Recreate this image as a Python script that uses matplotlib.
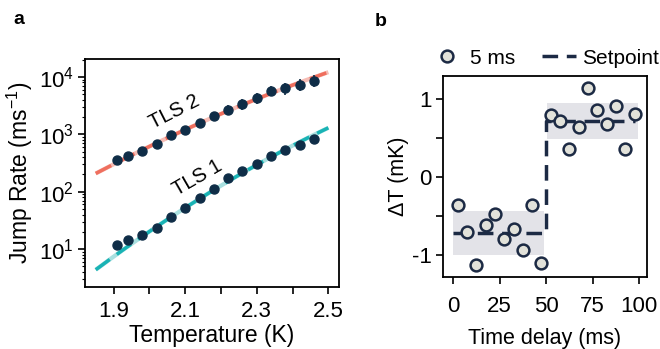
import matplotlib
matplotlib.use("Agg")
import matplotlib.pyplot as plt
import numpy as np
from matplotlib.patches import Rectangle

plt.rcParams['font.family'] = ['Liberation Sans', 'DejaVu Sans']
plt.rcParams['mathtext.fontset'] = 'custom'
plt.rcParams['mathtext.rm'] = 'Liberation Sans'
plt.rcParams['mathtext.it'] = 'Liberation Sans:italic'
plt.rcParams['axes.linewidth'] = 1.3

# panel a: jump rates vs temperature
temps = [1.91, 1.94, 1.98, 2.02, 2.06, 2.10, 2.14, 2.18, 2.22, 2.26, 2.30, 2.34, 2.38, 2.42, 2.46]
tls2_rate = [352, 413, 519, 678, 961, 1175, 1577, 2061, 2692, 3381, 4305, 5777, 6425, 7350, 8630]
tls2_err = [0, 0, 0, 0, 0, 0, 250, 350, 500, 700, 900, 1200, 1500, 1700, 2000]
tls1_rate = [11.6, 14.5, 17.6, 23.2, 36.2, 51.9, 76.5, 113, 173, 226, 308, 413, 526, 661, 830]

fit_t = [1.85, 2.0, 2.2, 2.35, 2.5]
tls2_fit = [210, 600, 2300, 5500, 12000]
tls1_fit = [4.5, 19, 135, 430, 1290]

# panel b: temperature step
delay = [2.5, 7.5, 12.5, 17.5, 22.5, 27.5, 32.5, 37.5, 42.5, 47.5,
         52.5, 57.5, 62.5, 67.5, 72.5, 77.5, 82.5, 87.5, 92.5, 97.5]
dT = [-0.36, -0.70, -1.13, -0.62, -0.47, -0.79, -0.66, -0.94, -0.36, -1.10,
      0.79, 0.71, 0.36, 0.64, 1.13, 0.86, 0.68, 0.90, 0.36, 0.81]
set_t = [0, 50, 50, 97.5]
set_v = [-0.72, -0.72, 0.72, 0.72]
bands = [(0, 49, -1.0, -0.44), (50.5, 99.3, 0.49, 0.95)]

navy = '#0f2d47'
fs_tick = 16
fig = plt.figure(figsize=(6.6, 3.49), dpi=100)

ax = fig.add_axes([0.1288, 0.178, 0.385, 0.653])
# smooth fit through read points in log space
tt = np.linspace(fit_t[0], fit_t[-1], 200)
for fit, light, dark in [(tls2_fit, '#f6bdb5', '#ef6f5e'), (tls1_fit, '#a9e0e0', '#19b3b5')]:
    yy = 10 ** np.polyval(np.polyfit(fit_t, np.log10(fit), 2), tt)
    ax.plot(tt, yy, color=light, lw=3, solid_capstyle='butt', zorder=1)
    ax.plot(tt, yy, color=dark, lw=2.5, dashes=(5, 2.5), zorder=2)
ax.errorbar(temps, tls2_rate, yerr=tls2_err, fmt='o', color=navy, ms=6.5, elinewidth=1.2, capsize=0, zorder=3)
ax.plot(temps, tls1_rate, 'o', color=navy, ms=6.5, zorder=3)
ax.text(2.07, 2500, 'TLS 2', rotation=27, fontsize=14.5, ha='center', va='center')
ax.text(2.135, 175, 'TLS 1', rotation=30, fontsize=14.5, ha='center', va='center')
ax.set_yscale('log')
ax.set_xlim(1.82, 2.53)
ax.set_ylim(2.2, 2.05e4)
ax.set_xticks([1.9, 2.1, 2.3, 2.5])
ax.set_xticks([2.0, 2.2, 2.4], minor=True)
ax.tick_params(which='both', direction='out', top=False, right=False, labelsize=fs_tick, pad=3)
ax.tick_params(axis='x', pad=5)
ax.tick_params(which='major', length=5, width=1.2)
ax.tick_params(axis='x', which='minor', length=5, width=1.2)
ax.tick_params(axis='y', which='minor', length=2.5, width=0.8)
ax.set_xlabel('Temperature (K)', fontsize=16.5)
ax.set_ylabel('Jump Rate (ms$^{-1}$)', fontsize=16.5)
ax.yaxis.set_label_coords(-0.197, 0.5)
ax.xaxis.set_label_coords(0.5, -0.165)
fig.text(0.02, 0.93, 'a', fontsize=14, fontweight='bold')

bx = fig.add_axes([0.6708, 0.2063, 0.309, 0.576])
for x0, x1, y0, y1 in bands:
    bx.add_patch(Rectangle((x0, y0), x1 - x0, y1 - y0, color='#e3e3e8', lw=0, zorder=0))
bx.plot(set_t, set_v, color='#1c2a44', lw=2.5, dashes=(4.5, 2.5), label='Setpoint', zorder=2)
bx.plot(delay, dT, 'o', ms=8.5, mfc='#e2e2da', mec='#1c2a44', mew=1.8, lw=0, label='5 ms', zorder=3)
bx.set_xlim(-5.5, 104)
bx.set_ylim(-1.28, 1.29)
bx.set_xticks([0, 25, 50, 75, 100])
bx.set_yticks([-1, 0, 1])
bx.set_yticklabels(['-1', '0', '1'])
bx.set_yticks([-0.5, 0.5], minor=True)
bx.tick_params(which='both', direction='out', length=5, width=1.2, labelsize=fs_tick, pad=3)
bx.tick_params(axis='x', pad=9)
bx.set_xlabel('Time delay (ms)', fontsize=15.5)
bx.set_ylabel('ΔT (mK)', fontsize=15.5)
bx.yaxis.set_label_coords(-0.165, 0.5)
bx.xaxis.set_label_coords(0.5, -0.255)
h, l = bx.get_legend_handles_labels()
bx.legend(h[::-1], l[::-1], ncol=2, frameon=False, fontsize=15, loc='lower center',
          bbox_to_anchor=(0.5, 0.99), handlelength=1.6, handletextpad=0.3, columnspacing=1.3,
          borderaxespad=0.1)
fig.text(0.567, 0.925, 'b', fontsize=14, fontweight='bold')

fig.savefig('out.png', dpi=100)
